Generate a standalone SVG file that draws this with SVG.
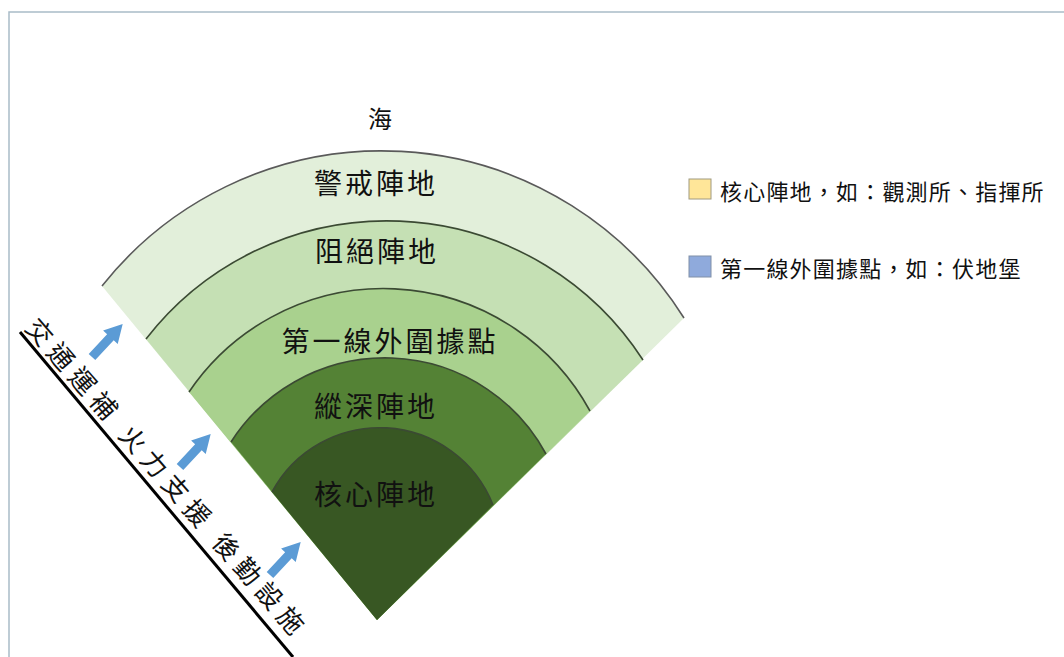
<svg xmlns="http://www.w3.org/2000/svg" xmlns:xlink="http://www.w3.org/1999/xlink" width="1064" height="657" viewBox="0 0 1064 657">
  <style>
    text { font-family: "Noto Sans CJK TC", "Noto Sans CJK SC", sans-serif; fill: #111111; }
    .lbl { font-size: 28px; letter-spacing: 3px; text-anchor: middle; dominant-baseline: central; }
    .leg { font-size: 22px; letter-spacing: 1.2px; dominant-baseline: central; }
    .side { font-size: 26px; letter-spacing: 6.5px; }
    .arc { fill: none; stroke: #3b4a33; stroke-width: 1.6; }
    .arc-outer { fill: none; stroke: #5a5a5a; stroke-width: 1.6; }
    .arrow { fill: #5b9bd5; }
    .frame { stroke: #a9bcc8; stroke-width: 1.5; fill: none; }
  </style>
  <defs>
    <path id="blockArrow" d="M0,-4.5 L27,-4.5 L27,-10 L45,0 L27,10 L27,4.5 L0,4.5 Z"/>
  </defs>

  <rect x="0" y="0" width="1064" height="657" fill="#ffffff"/>
  <path class="frame" d="M9,657 L9,12 L1064,12"/>

  <g id="sea-label">
    <text x="380" y="117" style="font-size:24px;text-anchor:middle;dominant-baseline:central">海</text>
  </g>

  <g id="band-warning">
    <path d="M377,620 L102,286 A357,357 0 0 1 684,318 Z" fill="#e2efda"/>
    <path class="arc-outer" d="M102,286 A357,357 0 0 1 684,318"/>
    <text class="lbl" x="376" y="182">警戒陣地</text>
  </g>

  <g id="band-blocking">
    <path d="M377,620 L146,339 A305,305 0 0 1 643,360 Z" fill="#c5e0b4"/>
    <path class="arc" d="M146,339 A305,305 0 0 1 643,360"/>
    <text class="lbl" x="377" y="250">阻絕陣地</text>
  </g>

  <g id="band-first-line">
    <path d="M377,620 L189,392 A235,235 0 0 1 590,411 Z" fill="#a9d18e"/>
    <path class="arc" d="M189,392 A235,235 0 0 1 590,411"/>
    <text class="lbl" x="390" y="340">第一線外圍據點</text>
  </g>

  <g id="band-depth">
    <path d="M377,620 L231,442 A183,183 0 0 1 546,454 Z" fill="#548235"/>
    <path class="arc" d="M231,442 A183,183 0 0 1 546,454"/>
    <text class="lbl" x="376" y="405">縱深陣地</text>
  </g>

  <g id="band-core">
    <path d="M377,620 L272,492 A122,122 0 0 1 493,505 Z" fill="#385723"/>
    <path class="arc" d="M272,492 A122,122 0 0 1 493,505"/>
    <text class="lbl" x="376" y="493">核心陣地</text>
  </g>

  <g id="support-line">
    <line x1="20" y1="332" x2="293" y2="657" stroke="#000000" stroke-width="3"/>
    <text class="side" transform="translate(24,328.4) rotate(49)" x="0" y="0">交通運補 火力支援 後勤設施</text>
  </g>

  <g id="legend-core">
    <rect x="689" y="179" width="22" height="20" fill="#ffe699" stroke="#a09a80" stroke-width="1"/>
    <text class="leg" x="720" y="190">核心陣地，如：觀測所、指揮所</text>
  </g>

  <g id="legend-first-line">
    <rect x="689" y="256" width="22" height="21" fill="#8faadc" stroke="#8090a8" stroke-width="1"/>
    <text class="leg" x="720" y="267">第一線外圍據點，如：伏地堡</text>
  </g>

  <g id="connectors">
    <use xlink:href="#blockArrow" class="arrow" transform="translate(92,357) rotate(-47)"/>
    <use xlink:href="#blockArrow" class="arrow" transform="translate(180,467) rotate(-47)"/>
    <use xlink:href="#blockArrow" class="arrow" transform="translate(270,575) rotate(-47)"/>
  </g>
</svg>
